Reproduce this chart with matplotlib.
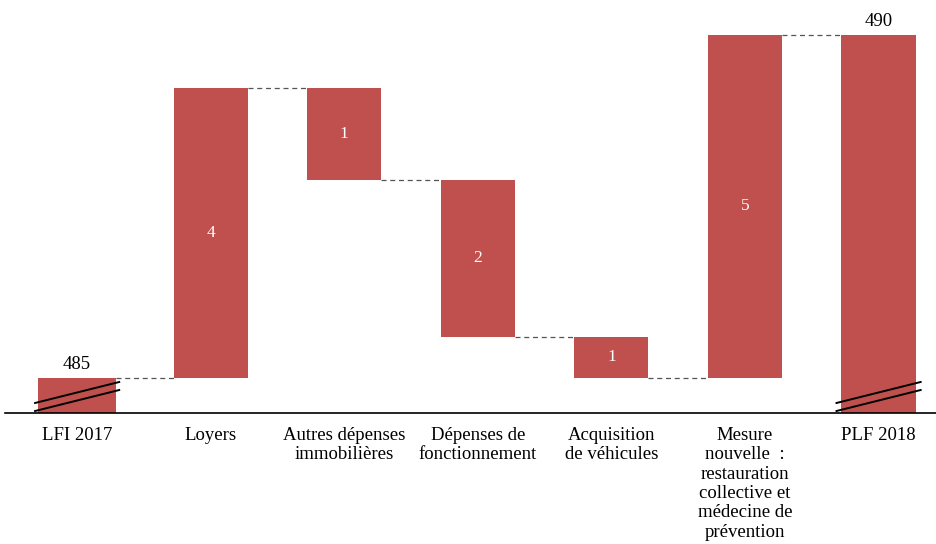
import matplotlib
matplotlib.use("Agg")
import matplotlib.pyplot as plt
import numpy as np

# Données (millions d'euros)
categories = ["LFI 2017", "Loyers", "Autres dépenses\nimmobilières",
              "Dépenses de\nfonctionnement", "Acquisition\nde véhicules",
              "Mesure\nnouvelle  :\nrestauration\ncollective et\nmédecine de\nprévention",
              "PLF 2018"]
start_total = 485
variations = [4.23, -1.34, -2.29, -0.60, 5.00]
end_total = 490

bar_color = "#C0504D"
plt.rcParams["font.family"] = ["Liberation Serif", "DejaVu Serif"]

fig = plt.figure(figsize=(9.36, 5.44), dpi=100)
ax = fig.add_axes([5 / 936, 131 / 544, 931 / 936, 413 / 544])

y_low, y_high = 484.49, 490.51
width = 0.555
x = np.arange(len(categories))

# Barres de total (axe interrompu)
totals_idx = [0, len(categories) - 1]
totals = [start_total, end_total]
for i, v in zip(totals_idx, totals):
    ax.bar(x[i], v - y_low, bottom=y_low, width=width if i else 0.58,
           color=bar_color, zorder=2)
    ax.text(x[i], v + 0.07, f"{v}", ha="center", va="bottom", fontsize=13.5)

# Barres de variation
levels = [start_total]
for k, d in enumerate(variations):
    i = k + 1
    prev = levels[-1]
    new = prev + d
    levels.append(new)
    lo, hi = min(prev, new), max(prev, new)
    ax.bar(x[i], hi - lo, bottom=lo, width=width, color=bar_color, zorder=2)
    ax.text(x[i], (lo + hi) / 2, f"{abs(d):.0f}", ha="center", va="center",
            fontsize=12.5, color="white")

# Lignes de liaison pointillées
for i, lvl in enumerate(levels):
    x0 = x[i] + (0.29 if i == 0 else width / 2)
    x1 = x[i + 1] - width / 2
    ax.plot([x0, x1], [lvl, lvl], ls=(0, (4, 3)), color="#555555",
            lw=0.9, zorder=1)

# Marques d'interruption sur les barres de total
base, gap, rise = 0.029, 0.117, 0.306
for i in totals_idx:
    for off in (0.0, gap):
        y0 = y_low + base + off
        ax.plot([x[i] - 0.315, x[i] + 0.315], [y0, y0 + rise],
                color="black", lw=1.4, zorder=3, clip_on=False)

ax.set_xlim(-0.54, 6.43)
ax.set_ylim(y_low, y_high)
ax.set_xticks(x)
ax.set_xticklabels(categories, fontsize=13.5, linespacing=1.18)
ax.tick_params(axis="x", length=0, pad=10)
ax.set_yticks([])
for s in ("top", "right", "left"):
    ax.spines[s].set_visible(False)
ax.spines["bottom"].set_linewidth(1.2)

fig.savefig("out.png", dpi=100)
